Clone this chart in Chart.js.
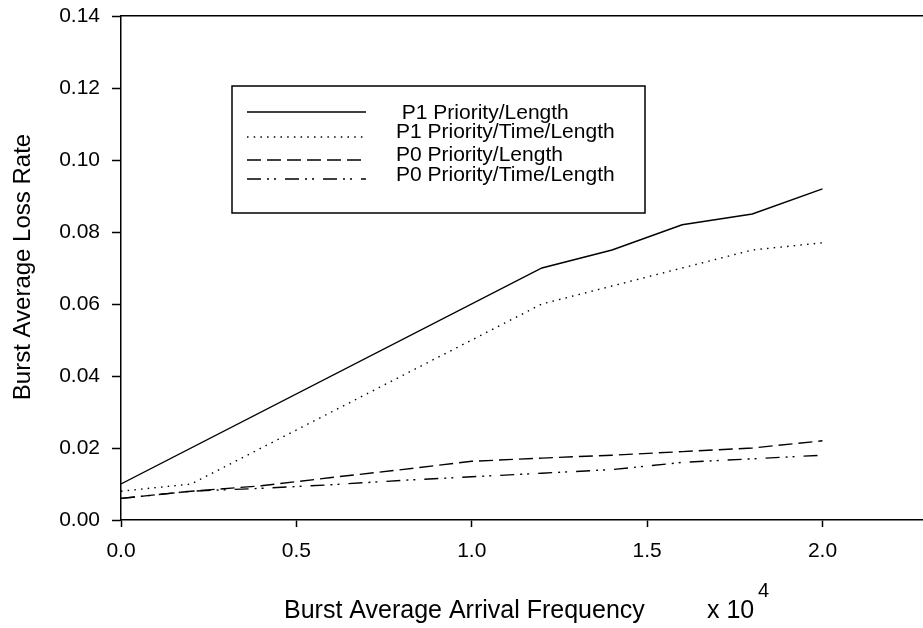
<!DOCTYPE html>
<html>
<head>
<meta charset="utf-8">
<script src="https://cdn.jsdelivr.net/npm/chart.js@4.4.1/dist/chart.umd.min.js"></script>
<style>
  html, body { margin: 0; padding: 0; background: #fff; overflow: hidden; }
  #wrap { width: 923px; height: 628px; }
</style>
</head>
<body>
<div id="wrap"><canvas id="c" width="923" height="628"></canvas></div>
<script>
// ---- data ----
const seriesLabels = [
  ' P1 Priority/Length',
  'P1 Priority/Time/Length',
  'P0 Priority/Length',
  'P0 Priority/Time/Length'
];
const p1LengthX = [0, 1.2, 1.4, 1.6, 1.8, 2.0];
const p1LengthY = [0.010, 0.070, 0.075, 0.082, 0.085, 0.092];
const p1TimeX = [0, 0.2, 1.2, 1.4, 1.6, 1.8, 2.0];
const p1TimeY = [0.008, 0.010, 0.060, 0.065, 0.070, 0.075, 0.077];
const p0X = [0, 0.2, 0.4, 0.6, 0.8, 1.0, 1.2, 1.4, 1.6, 1.8, 2.0];
const p0LengthY = [0.006, 0.008, 0.0095, 0.0118, 0.014, 0.0163, 0.0172, 0.018, 0.019, 0.020, 0.022];
const p0TimeY = [0.006, 0.008, 0.0088, 0.0098, 0.011, 0.012, 0.013, 0.014, 0.016, 0.017, 0.018];
const xTickValues = [0, 0.5, 1.0, 1.5, 2.0];
const yTickValues = [0, 0.02, 0.04, 0.06, 0.08, 0.10, 0.12, 0.14];
const xAxisTitle = 'Burst Average Arrival Frequency';
const xAxisMultiplier = 'x 10';
const xAxisExponent = '4';
const yAxisTitle = 'Burst Average Loss Rate';

const pts = (xs, ys) => xs.map((x, i) => ({ x: x, y: ys[i] }));

const FONT = '"Liberation Sans", Arial, Helvetica, sans-serif';
Chart.defaults.font.family = FONT;
Chart.defaults.color = '#000';

const dashes = [[], [1.5, 5.2], [14, 6], [14, 6, 2, 5, 2, 9]];

const legendPlugin = {
  id: 'boxLegend',
  afterDraw(chart) {
    const ctx = chart.ctx;
    ctx.save();
    ctx.fillStyle = '#fff';
    ctx.fillRect(232, 86, 413, 127);
    ctx.strokeStyle = '#000';
    ctx.lineWidth = 1.5;
    ctx.setLineDash([]);
    ctx.strokeRect(232, 86, 413, 127);
    const lineY = [112, 137, 160, 179];
    const textY = [113, 132, 155, 175];
    const textX = [396, 396, 396, 396];
    ctx.font = '21px ' + FONT;
    ctx.textBaseline = 'middle';
    ctx.textAlign = 'left';
    chart.data.datasets.forEach((ds, i) => {
      ctx.beginPath();
      ctx.setLineDash(ds.borderDash || []);
      ctx.lineWidth = ds.borderWidth;
      ctx.strokeStyle = ds.borderColor;
      ctx.moveTo(247, lineY[i]);
      ctx.lineTo(366, lineY[i]);
      ctx.stroke();
      ctx.setLineDash([]);
      ctx.fillStyle = '#000';
      ctx.fillText(ds.label, textX[i], textY[i]);
    });
    ctx.restore();
  }
};

const titlePlugin = {
  id: 'axisTitles',
  afterDraw(chart) {
    const ctx = chart.ctx;
    ctx.save();
    ctx.fillStyle = '#000';
    ctx.textBaseline = 'alphabetic';
    // y title
    ctx.font = '24px ' + FONT;
    ctx.translate(30, 267);
    ctx.rotate(-Math.PI / 2);
    ctx.textAlign = 'center';
    ctx.fillText(yAxisTitle, 0, 0);
    ctx.setTransform(1, 0, 0, 1, 0, 0);
    // x title
    ctx.textAlign = 'left';
    ctx.font = '25px ' + FONT;
    ctx.fillText(xAxisTitle, 284, 618);
    ctx.fillText(xAxisMultiplier, 707, 618);
    ctx.font = '20px ' + FONT;
    ctx.fillText(xAxisExponent, 758, 597);
    ctx.restore();
  }
};

const mk = (label, data, dash) => ({
  label: label,
  data: data,
  borderColor: '#000',
  backgroundColor: '#000',
  borderWidth: 1.4,
  borderDash: dash,
  pointRadius: 0,
  tension: 0,
  fill: false
});

const noPad = s => { s.paddingTop = 0; s.paddingBottom = 0; s.paddingLeft = 0; s.paddingRight = 0; };

new Chart(document.getElementById('c'), {
  type: 'line',
  data: {
    datasets: [
      mk(seriesLabels[0], pts(p1LengthX, p1LengthY), dashes[0]),
      mk(seriesLabels[1], pts(p1TimeX, p1TimeY), dashes[1]),
      mk(seriesLabels[2], pts(p0X, p0LengthY), dashes[2]),
      mk(seriesLabels[3], pts(p0X, p0TimeY), dashes[3])
    ]
  },
  options: {
    responsive: false,
    devicePixelRatio: 1,
    animation: false,
    layout: { padding: { top: 16, left: 0, right: 0, bottom: 0 } },
    plugins: { legend: { display: false }, tooltip: { enabled: false } },
    scales: {
      x: {
        type: 'linear',
        position: 'bottom',
        min: 0,
        max: 2.2866,
        afterBuildTicks: s => { s.ticks = xTickValues.map(v => ({ value: v })); },
        afterFit: s => { s.height = 108; noPad(s); },
        ticks: {
          callback: v => Number(v).toFixed(1),
          font: { size: 21 },
          color: '#000',
          padding: 12,
          maxRotation: 0,
          autoSkip: false
        },
        grid: { drawOnChartArea: false, drawTicks: true, tickLength: 7, tickColor: '#000', tickWidth: 1.5 },
        border: { display: true, color: '#000', width: 1.5 }
      },
      x2: {
        type: 'linear',
        position: 'top',
        display: true,
        min: 0,
        max: 1,
        afterFit: s => { s.height = 0; noPad(s); },
        ticks: { display: false },
        grid: { drawOnChartArea: false, drawTicks: false },
        border: { display: true, color: '#000', width: 1.5 }
      },
      y: {
        type: 'linear',
        position: 'left',
        min: 0,
        max: 0.14,
        afterBuildTicks: s => { s.ticks = yTickValues.map(v => ({ value: v })); },
        afterFit: s => { s.width = 121; noPad(s); },
        ticks: {
          callback: v => Number(v).toFixed(2),
          font: { size: 21 },
          color: '#000',
          padding: 12,
          autoSkip: false
        },
        grid: { drawOnChartArea: false, drawTicks: true, tickLength: 9, tickColor: '#000', tickWidth: 1.5 },
        border: { display: true, color: '#000', width: 1.5 }
      }
    }
  },
  plugins: [legendPlugin, titlePlugin]
});
</script>
</body>
</html>
